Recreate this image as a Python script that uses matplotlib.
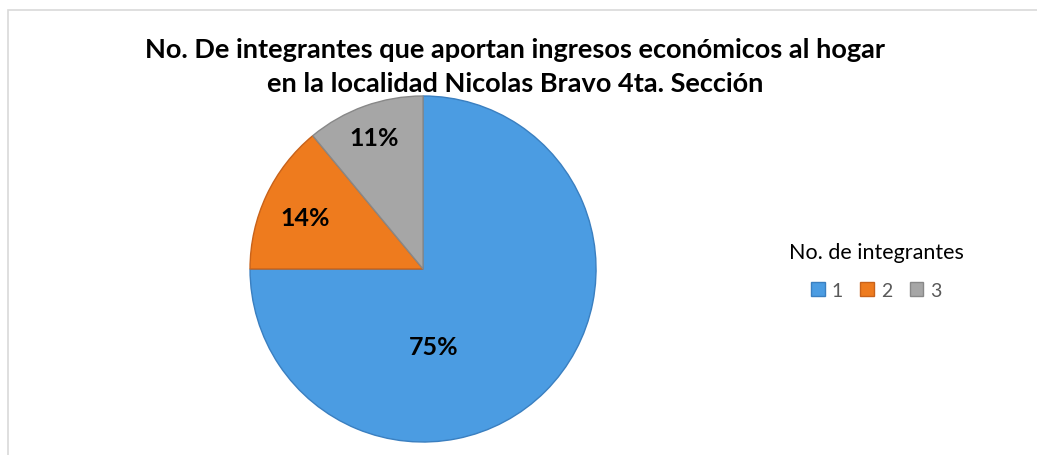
import matplotlib
matplotlib.use("Agg")
import matplotlib.pyplot as plt
from matplotlib.patches import Rectangle, Patch

categories = ["1", "2", "3"]
values = [75, 14, 11]
pct_labels = ["75%", "14%", "11%"]
colors = ["#4B9CE2", "#EE7B1E", "#A6A6A6"]
edge_colors = ["#3A7FC0", "#C8621A", "#888888"]
title = "No. De integrantes que aportan ingresos económicos al hogar\nen la localidad Nicolas Bravo 4ta. Sección"
legend_title = "No. de integrantes"

plt.rcParams['font.family'] = ['Lato', 'DejaVu Sans']

fig = plt.figure(figsize=(10.37, 4.56), dpi=100)
fig.patch.set_facecolor("white")
# border (top and left visible)
fig.add_artist(Rectangle((8/1037, -0.05), 1.1, 1.05 - 11/456,
                         transform=fig.transFigure, fill=False,
                         edgecolor="#D9D9D9", linewidth=1.2))

ax = fig.add_axes([0.2411, 0.0285, 0.3337, 0.7588])
wedges, _ = ax.pie(values, colors=colors, startangle=90, counterclock=False,
                   radius=1)
for w, ec in zip(wedges, edge_colors):
    w.set_edgecolor(ec)
    w.set_linewidth(1.0)
ax.set_xlim(-1.0, 1.0)
ax.set_ylim(-1.0, 1.0)
ax.set_aspect("equal")
ax.axis("off")

label_pos = [(0.06, -0.45), (-0.68, 0.30), (-0.28, 0.76)]
for txt, (x, y) in zip(pct_labels, label_pos):
    ax.text(x, y, txt, ha="center", va="center", fontsize=18, fontweight="bold", color="black")

fig.text(0.497, 0.853, title, ha="center", va="center", fontsize=19.5,
         fontweight="bold", linespacing=1.52)

handles = [Patch(facecolor=c, edgecolor=ec) for c, ec in zip(colors, edge_colors)]
leg = fig.legend(handles, categories, loc="center", bbox_to_anchor=(0.845, 0.405),
                 ncol=3, frameon=False, title=legend_title, fontsize=14,
                 title_fontsize=15.5, handlelength=0.7, handleheight=0.7,
                 handletextpad=0.35, columnspacing=0.9)
for t in leg.get_texts():
    t.set_color("#595959")
leg._legend_box.sep = 14

fig.savefig("out.png", dpi=100, facecolor="white")
